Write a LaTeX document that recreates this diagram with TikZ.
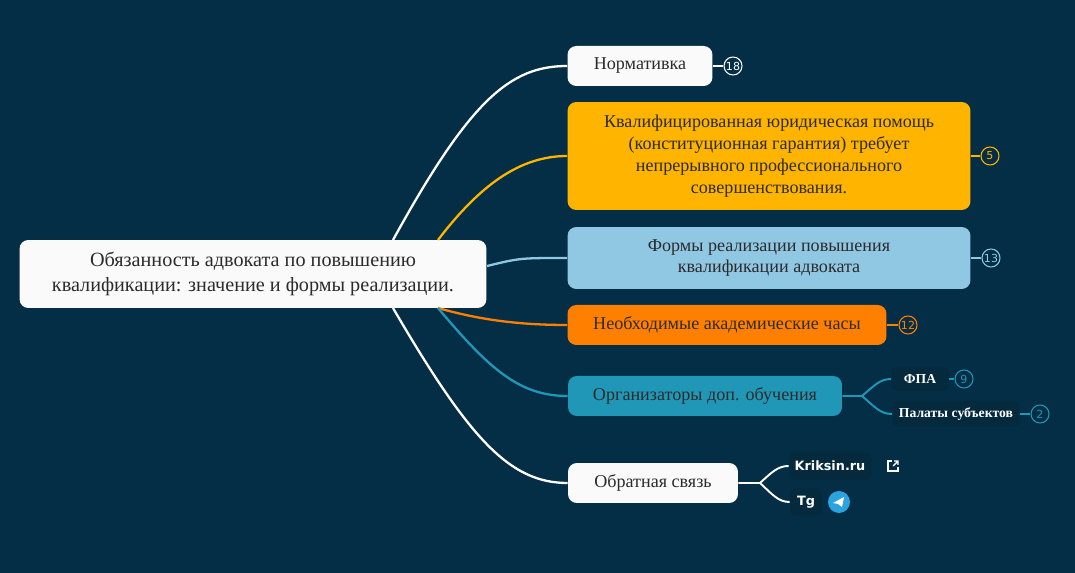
\documentclass[tikz,border=0pt]{standalone}
\usepackage{fontspec}
\setmainfont{Liberation Serif}
\newfontfamily\linksans{DejaVu Sans}
\usetikzlibrary{positioning, calc}
\definecolor{bgblue}{HTML}{032E45}
\definecolor{topicwhite}{HTML}{FAFAFA}
\definecolor{topicyellow}{HTML}{FFB400}
\definecolor{topiclight}{HTML}{90C8E4}
\definecolor{topicorange}{HTML}{FF8000}
\definecolor{topicteal}{HTML}{2197B8}
\definecolor{subdark}{HTML}{05293D}
\definecolor{textdark}{HTML}{2B2B2B}
\definecolor{tgblue}{HTML}{2AA3DF}
\tikzset{
  topic/.style={rounded corners=5pt, inner sep=0pt, align=center, text=textdark,
    font=\fontsize{10.3}{12.5}\selectfont},
  sub/.style={rounded corners=3pt, fill=subdark, text=white, inner sep=0pt,
    font=\fontsize{7.8}{9}\selectfont},
  badge/.style={circle, draw=#1, line width=0.6pt, inner sep=0pt, minimum size=0.36cm,
    text=#1, font=\linksans\fontsize{6.3}{7}\selectfont},
  branch/.style={line width=1.3pt, draw=#1},
}
\begin{document}
\begin{tikzpicture}[x=0.02cm, y=-0.02cm]
  \fill[bgblue] (0,0) rectangle (1075,573);
  \useasboundingbox (0,0) rectangle (1075,573);

  % central topic
  \node[topic, fill=topicwhite, minimum width=9.34cm, minimum height=1.36cm,
    font=\fontsize{11.5}{14}\selectfont] (root) at (253,274)
    {Обязанность адвоката по повышению\\квалификации: значение и формы реализации.};

  % main topics
  \node[topic, fill=topicwhite, minimum width=2.9cm, minimum height=0.8cm] (norm) at (640,66) {Нормативка};
  \node[topic, fill=topicyellow, minimum width=8.06cm, minimum height=2.16cm] (qual) at (769,156)
    {Квалифицированная юридическая помощь\\(конституционная гарантия) требует\\непрерывного профессионального\\совершенствования.};
  \node[topic, fill=topiclight, minimum width=8.06cm, minimum height=1.24cm] (forms) at (769,258)
    {Формы реализации повышения\\квалификации адвоката};
  \node[topic, fill=topicorange, minimum width=6.38cm, minimum height=0.8cm] (hours) at (727,325)
    {Необходимые академические часы};
  \node[topic, fill=topicteal, minimum width=5.48cm, minimum height=0.8cm] (org) at (705,396)
    {Организаторы доп. обучения};
  \node[topic, fill=topicwhite, minimum width=3.4cm, minimum height=0.8cm] (fb) at (653,483)
    {Обратная связь};

  % subtopics
  \node[sub, minimum width=1.14cm, minimum height=0.48cm] (fpa) at (920,379) {\textbf{ФПА}};
  \node[sub, minimum width=2.54cm, minimum height=0.52cm] (chamb) at (956,414) {\textbf{Палаты субъектов}};
  \node[sub, minimum width=1.64cm, minimum height=0.54cm, font=\linksans\bfseries\fontsize{7.3}{8}\selectfont] (site) at (830,466) {Kriksin.ru};
  \node[sub, minimum width=0.64cm, minimum height=0.54cm, font=\linksans\bfseries\fontsize{7.3}{8}\selectfont] (tg) at (806,502) {Tg};

  % badges
  \node[badge=white] (b18) at (733,66) {18};
  \node[badge=topicyellow] (b5) at (990,156) {5};
  \node[badge=topiclight] (b13) at (991,258) {13};
  \node[badge=topicorange] (b12) at (908,325) {12};
  \node[badge=topicteal] (b9) at (964,379) {9};
  \node[badge=topicteal] (b2) at (1040,414) {2};
  \draw[white, line width=0.8pt] (norm.east) -- (b18);
  \draw[topicyellow, line width=0.8pt] (qual.east) -- (b5);
  \draw[topiclight, line width=0.8pt] (forms.east) -- (b13);
  \draw[topicorange, line width=0.8pt] (hours.east) -- (b12);
  \draw[topicteal, line width=0.8pt] (fpa.east) -- (b9);
  \draw[topicteal, line width=0.8pt] (chamb.east) -- (b2);

  % branches
  \coordinate (rt1) at (393,240);
  \coordinate (rt2) at (438,240);
  \coordinate (rb1) at (393,308);
  \coordinate (rb2) at (438,308);
  \coordinate (rm) at (487,266);
  \draw[branch=white] (rt1) .. controls (470,100) and (510,66) .. (norm.west);
  \draw[branch=topicyellow] (rt2) .. controls (480,185) and (520,156) .. (qual.west);
  \draw[branch=topiclight] (rm) .. controls (520,258) .. (forms.west);
  \draw[branch=topicorange] (rb2) .. controls (480,320) and (520,325) .. (hours.west);
  \draw[branch=topicteal] (rb2) .. controls (490,370) and (520,396) .. (org.west);
  \draw[branch=white] (rb1) .. controls (470,440) and (510,483) .. (fb.west);

  % sub-branches
  \coordinate (orgfork) at (862,396);
  \draw[topicteal, line width=1.1pt] (org.east) -- (orgfork)
    .. controls (875,385) and (880,379) .. (fpa.west);
  \draw[topicteal, line width=1.1pt] (orgfork) .. controls (875,407) and (880,414) .. (chamb.west);
  \coordinate (fbfork) at (760,483);
  \draw[white, line width=1.1pt] (fb.east) -- (fbfork)
    .. controls (772,472) and (778,466) .. (site.west);
  \draw[white, line width=1.1pt] (fbfork) .. controls (772,494) and (778,502) .. (tg.west);

  % icons
  \node[circle, fill=tgblue, minimum size=0.44cm, inner sep=0pt] (tgicon) at (839,502) {};
  \fill[white] ($(tgicon)+(-6,1)$) -- ($(tgicon)+(5,-5)$) -- ($(tgicon)+(3,5)$) -- ($(tgicon)+(-1,2)$) -- cycle;
  \coordinate (ext) at (893,466);
  \draw[white, line width=0.8pt] ($(ext)+(-1,-5)$) -- ($(ext)+(-5,-5)$) -- ($(ext)+(-5,5)$) -- ($(ext)+(5,5)$) -- ($(ext)+(5,1)$);
  \draw[white, line width=0.8pt] (ext) -- ($(ext)+(5,-5)$) ($(ext)+(1,-5)$) -- ($(ext)+(5,-5)$) -- ($(ext)+(5,-1)$);
\end{tikzpicture}
\end{document}
